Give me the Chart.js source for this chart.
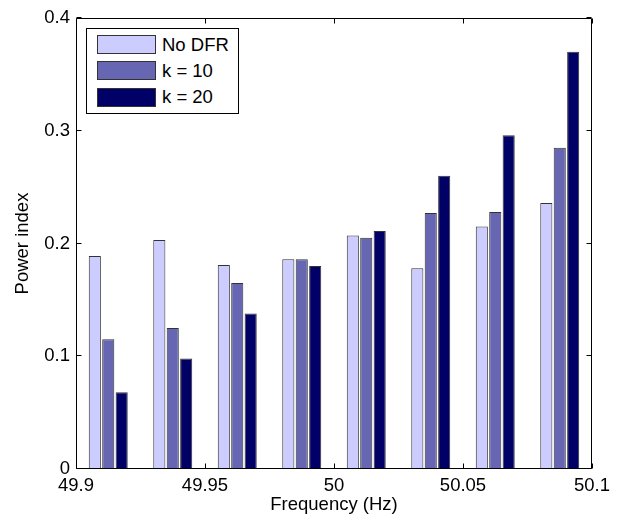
<!DOCTYPE html>
<html><head><meta charset="utf-8">
<script src="https://cdn.jsdelivr.net/npm/chart.js@4.4.1/dist/chart.umd.min.js"></script>
<style>
html,body{margin:0;padding:0;background:#fff;}
#wrap{position:relative;width:620px;height:522px;}
#legend{position:absolute;background:#fff;border:1px solid #000;box-sizing:border-box;font-family:"Liberation Sans",Arial,Helvetica,sans-serif;font-size:18.5px;color:#000;}
.row{position:absolute;left:10px;height:19px;display:flex;align-items:center;white-space:nowrap;}
.sw{width:59px;height:19px;box-sizing:border-box;border:1px solid #333;margin-right:6px;}
</style></head><body>
<div id="wrap"><canvas id="c" width="620" height="522"></canvas><div id="legend"></div></div>
<script>
// ---- data ----
const frequencies = [49.9125, 49.9375, 49.9625, 49.9875, 50.0125, 50.0375, 50.0625, 50.0875];
const seriesNames = ['No DFR', 'k = 10', 'k = 20'];
const noDFR = [0.189, 0.203, 0.181, 0.186, 0.207, 0.178, 0.215, 0.236];
const k10   = [0.115, 0.125, 0.165, 0.186, 0.205, 0.227, 0.228, 0.285];
const k20   = [0.068, 0.098, 0.138, 0.180, 0.211, 0.260, 0.296, 0.370];
const xTicks = [49.9, 49.95, 50, 50.05, 50.1];
const yTicks = [0, 0.1, 0.2, 0.3, 0.4];
const xTitle = 'Frequency (Hz)';
const yTitle = 'Power index';

const colors = ['#ccccff', '#6666b3', '#000066'];
const FONT_FAMILY = '"Liberation Sans", Arial, Helvetica, sans-serif';
Chart.defaults.font.family = FONT_FAMILY;
Chart.defaults.font.size = 18.5;
Chart.defaults.color = '#000';

const fmt = v => String(Number(Number(v).toFixed(4)));

const boxPlugin = {
  id: 'matlabBox',
  afterDatasetsDraw(chart) {
    const {ctx, chartArea: a, scales} = chart;
    ctx.save();
    ctx.strokeStyle = '#000';
    ctx.lineWidth = 1;
    const l = Math.round(a.left) + 0.5, t = Math.round(a.top) + 0.5;
    const r = Math.round(a.right) - 0.5, b = Math.round(a.bottom) - 0.5;
    ctx.beginPath();
    ctx.moveTo(l, t); ctx.lineTo(r, t); ctx.lineTo(r, b); ctx.lineTo(l, b); ctx.closePath();
    const L = 5;
    yTicks.forEach(v => {
      const y = Math.round(scales.y.getPixelForValue(v)) - 0.5;
      ctx.moveTo(l, y); ctx.lineTo(l + L, y);
      ctx.moveTo(r, y); ctx.lineTo(r - L, y);
    });
    xTicks.forEach(v => {
      const x = Math.round(scales.x2.getPixelForValue(v)) + 0.5;
      ctx.moveTo(x, b); ctx.lineTo(x, b - L);
      ctx.moveTo(x, t); ctx.lineTo(x, t + L);
    });
    ctx.stroke();
    ctx.restore();
  }
};

const seriesValues = [noDFR, k10, k20];
const chart = new Chart(document.getElementById('c'), {
  type: 'bar',
  data: {
    labels: frequencies.map(String),
    datasets: seriesNames.map((name, i) => ({
      label: name,
      data: seriesValues[i],
      backgroundColor: colors[i],
      borderColor: '#333',
      borderWidth: 1,
      categoryPercentage: 0.625,
      barPercentage: 0.9,
      xAxisID: 'x',
      yAxisID: 'y'
    }))
  },
  options: {
    responsive: false,
    animation: false,
    devicePixelRatio: 1,
    layout: {padding: {left: 0, top: 18, right: 28, bottom: 0}},
    plugins: {legend: {display: false}, tooltip: {enabled: false}},
    scales: {
      x: {type: 'category', display: false, offset: true, grid: {display: false}},
      x2: {
        type: 'linear', position: 'bottom', offset: false,
        min: xTicks[0], max: xTicks[xTicks.length - 1],
        afterBuildTicks: s => { s.ticks = xTicks.map(v => ({value: v})); },
        ticks: {padding: 6, autoSkip: false, maxRotation: 0, callback: v => fmt(v)},
        grid: {display: false, drawTicks: false, offset: false},
        border: {display: false},
        title: {display: true, text: xTitle, padding: {top: 0, bottom: 6}},
        afterFit: s => { s.height = 53; }
      },
      y: {
        min: yTicks[0], max: yTicks[yTicks.length - 1],
        afterBuildTicks: s => { s.ticks = yTicks.map(v => ({value: v})); },
        ticks: {padding: 6, callback: v => fmt(v)},
        grid: {display: false, drawTicks: false},
        border: {display: false},
        title: {display: true, text: yTitle, padding: {top: 12, bottom: 0}},
        afterFit: s => { s.width = 76; }
      }
    }
  },
  plugins: [boxPlugin]
});

// HTML legend inside the plot area (top-left), built from the datasets
const leg = document.getElementById('legend');
const a = chart.chartArea;
leg.style.left = (a.left + 10) + 'px';
leg.style.top = (a.top + 10) + 'px';
leg.style.width = '153px';
leg.style.height = '86px';
chart.data.datasets.forEach((ds, i) => {
  const row = document.createElement('div');
  row.className = 'row';
  row.style.top = (6 + i * 26.3) + 'px';
  const sw = document.createElement('span');
  sw.className = 'sw';
  sw.style.background = ds.backgroundColor;
  const tx = document.createElement('span');
  tx.textContent = ds.label;
  row.appendChild(sw); row.appendChild(tx);
  leg.appendChild(row);
});
</script>
</body></html>
